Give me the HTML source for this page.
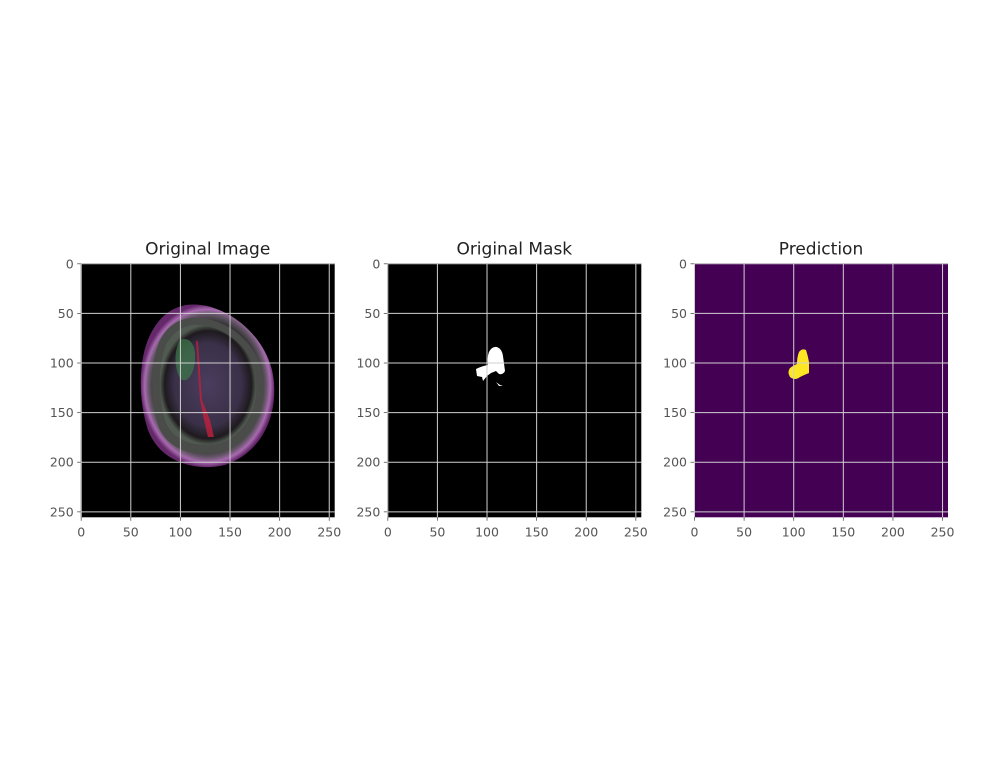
<!DOCTYPE html>
<html><head><meta charset="utf-8"><style>
body{margin:0;background:#fff;}
svg{display:block;font-family:"DejaVu Sans","Liberation Sans",sans-serif;}
</style></head><body>
<svg id="fig" width="999" height="772" viewBox="0 0 999 772">
<defs>
<radialGradient id="skull" cx="50%" cy="50%" r="50%">
<stop offset="0.80" stop-color="#3a3a3a"/><stop offset="0.88" stop-color="#6b5a6e"/><stop offset="0.94" stop-color="#b070b8"/><stop offset="1" stop-color="#6a2a70"/>
</radialGradient>
<radialGradient id="brainin" cx="50%" cy="50%" r="50%">
<stop offset="0" stop-color="#4a3d5e"/><stop offset="0.7" stop-color="#3a3048"/><stop offset="0.9" stop-color="#1e1a1e"/><stop offset="1" stop-color="#505a50"/>
</radialGradient>
<clipPath id="c0"><rect x="80.7" y="263.3" width="254" height="254"/></clipPath>
</defs>
<g id="panels"></g>
</svg>
<script>
const titles = ["Original Image","Original Mask","Prediction"];
const xTicks = [0,50,100,150,200,250];
const yTicks = [0,50,100,150,200,250];
const extent = 256;
const lefts = [80.7,387.3,694];
const top0 = 263.3, size = 254;
const NS = "http://www.w3.org/2000/svg";
const g = document.getElementById('panels');
function mk(t,a,p){const e=document.createElementNS(NS,t);for(const k in a)e.setAttribute(k,a[k]);(p||g).appendChild(e);return e;}
function sx(i,v){return lefts[i]+(v+0.5)*size/extent;}
function sy(v){return top0+(v+0.5)*size/extent;}
titles.forEach((t,i)=>{
  const L=lefts[i];
  const ax=mk('g',{});
  
  
  const bg=mk('rect',{x:L,y:top0,width:size,height:size,fill:i==2?'#440154':'#000'},ax);
  
  
  if(i==0){
    const b=mk('g',{'clip-path':'url(#c0)'},ax);
    
    
    mk('path',{d:'M186,305 C220,300 262,330 272,370 C280,405 268,450 225,465 C195,472 160,462 148,430 C138,400 138,360 150,335 C160,315 172,308 186,305Z',fill:'url(#skull)',opacity:0.95},b);
    mk('path',{d:'M190,318 C222,315 256,340 262,372 C268,402 258,440 222,452 C196,458 166,450 158,425 C150,398 150,362 160,340 C168,325 178,320 190,318Z',fill:'#4a4c4a'},b);
    mk('path',{d:'M192,325 C220,323 250,345 255,373 C260,400 250,433 220,443 C197,448 172,442 165,420 C158,396 158,365 166,345 C173,332 182,327 192,325Z',fill:'url(#brainin)'},b);
    mk('path',{d:'M180,340 C190,336 196,345 195,360 C194,375 186,385 180,378 C174,368 174,350 180,340Z',fill:'#3d7a4a',opacity:0.7},b);
    mk('path',{d:'M196,340 L198,342 L202,400 L210,420 L214,437 L208,437 L204,420 L200,400Z',fill:'#c0203c',opacity:0.8},b);
  }
  if(i==1){
    const m=mk('path',{d:'M489,352 Q492,346 497,347 Q502,349 503,356 L505,371 Q503,375 499,374 L496,371 L491,373 L487,376 L483,381 L482,377 L477,376 L476,369 Q482,366 488,365 Q487,357 489,352Z M496,382 L500,385 L503,386 L499,386Z',fill:'#fff'},ax);
    
    
  }
  if(i==2){
    const m=mk('path',{d:'M799,352 Q802,348 806,350 Q808,356 809,362 L809,373 Q804,375 800,377 Q795,381 790,377 Q787,372 790,368 Q794,365 797,364 Q797,357 799,352Z',fill:'#fde725'},ax);
    
    
  }
  xTicks.forEach(v=>{
    const x=sx(i,v);
    mk('line',{x1:x,y1:top0,x2:x,y2:top0+size,stroke:'#d0d0d0','stroke-width':1},ax);
    mk('line',{x1:x,y1:top0+size,x2:x,y2:top0+size+3.5,stroke:'#555','stroke-width':0.8},ax);
    const tx=mk('text',{x:x,y:top0+size+19,'text-anchor':'middle','font-size':12.5,fill:'#555'},ax);
    tx.textContent=v;
    
    
  });
  yTicks.forEach(v=>{
    const y=sy(v);
    mk('line',{x1:L,y1:y,x2:L+size,y2:y,stroke:'#d0d0d0','stroke-width':1},ax);
    mk('line',{x1:L-3.5,y1:y,x2:L,y2:y,stroke:'#555','stroke-width':0.8},ax);
    const ty=mk('text',{x:L-7,y:y+4.5,'text-anchor':'end','font-size':12.5,fill:'#555'},ax);
    ty.textContent=v;
    
    
  });
  const tt=mk('text',{x:L+size/2,y:top0-9,'text-anchor':'middle','font-size':17,fill:'#222'},ax);
  tt.textContent=t;
  
  
});
</script>
</body></html>
